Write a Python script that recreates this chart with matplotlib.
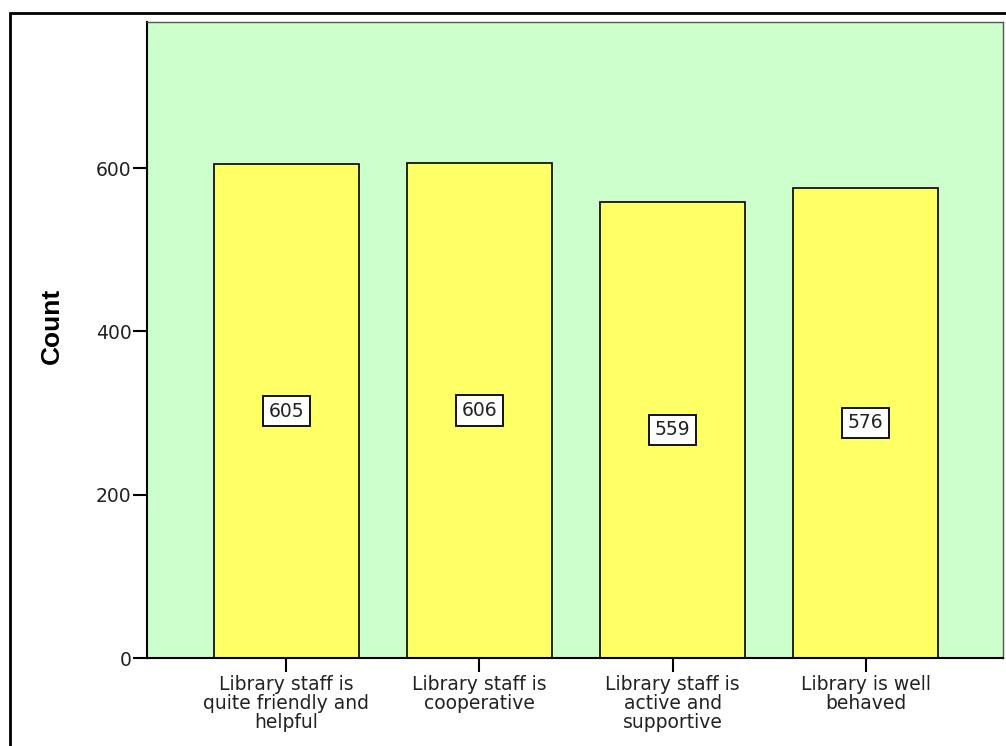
import matplotlib.pyplot as plt
from matplotlib.patches import Rectangle

# -------- Data --------
categories = [
    "Library staff is\nquite friendly and\nhelpful",
    "Library staff is\ncooperative",
    "Library staff is\nactive and\nsupportive",
    "Library is well\nbehaved",
]
counts = [605, 606, 559, 576]
yticks = [0, 200, 400, 600]

# -------- Figure --------
fig = plt.figure(figsize=(10.06, 7.46), dpi=100)
fig.patch.set_facecolor("white")

# outer frame (runs off the right/bottom edge like the original)
fig.patches.append(Rectangle((9.5 / 1006, -0.05), 1.2, (746 - 12.5) / 746 + 0.05,
                             transform=fig.transFigure, fill=False,
                             edgecolor="black", linewidth=2, zorder=0))

ax = fig.add_axes([147 / 1006, (746 - 658) / 746, (1003 - 147) / 1006, (658 - 22) / 746])
ax.set_facecolor("#CCFFCC")

x = list(range(len(counts)))
ax.bar(x, counts, width=0.75, color="#FFFF66", edgecolor="black", linewidth=1.2, zorder=2)

for xi, c in zip(x, counts):
    ax.text(xi, c / 2, str(c), ha="center", va="center", fontsize=13.5, color="#222222",
            bbox=dict(boxstyle="square,pad=0.3", facecolor="white", edgecolor="black",
                      linewidth=1.3), zorder=3)

ax.set_xlim(-0.72, 3.71)
ax.set_ylim(0, 779)
ax.set_yticks(yticks)
ax.set_xticks(x)
ax.set_xticklabels(categories, fontsize=13.5, color="#222222", linespacing=1.02)
ax.tick_params(axis="y", labelsize=13.5, labelcolor="#222222", length=10, width=1.5, pad=1)
ax.tick_params(axis="x", length=10, width=1.5, pad=2)
ax.set_ylabel("Count", fontsize=19, fontweight="bold", family="Liberation Sans")
ax.yaxis.set_label_coords(-0.097, (658 - 326) / 636)

for side in ["left", "bottom"]:
    ax.spines[side].set_linewidth(1.5)
for side in ["top", "right"]:
    ax.spines[side].set_linewidth(1.0)
    ax.spines[side].set_color("#555555")

fig.savefig("out.png", dpi=100)
